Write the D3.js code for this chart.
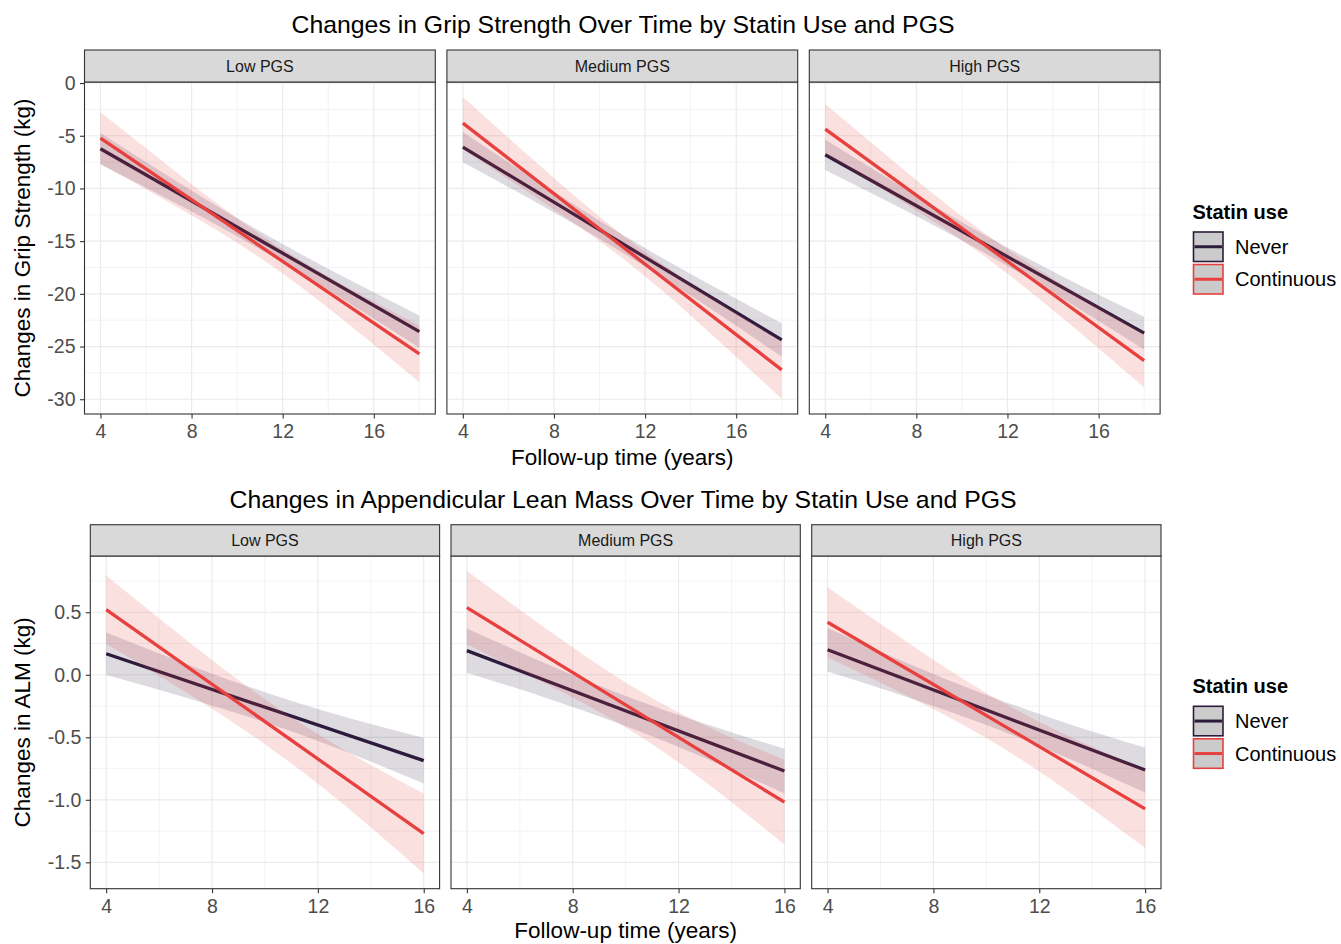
<!DOCTYPE html>
<html><head><meta charset="utf-8">
<script src="https://cdn.jsdelivr.net/npm/d3@7"></script>
<style>
body{margin:0;background:#fff;}
svg{display:block;font-family:"Liberation Sans",Arial,Helvetica,sans-serif;}
</style>
</head><body>
<svg id="chart" width="1341" height="944"></svg>
<script>
// ---------- data ----------
const panels = ["Low PGS", "Medium PGS", "High PGS"];
const groups = ["Never", "Continuous"];
const groupColors = ["#2d1b3d", "#e8403e"];
const legendTitle = "Statin use";

// Grip strength (fitted line end points, CI band points) per panel
const gripFitX = [4, 18];
const gripNeverFit = [[-6.23, -23.58], [-6.08, -24.37], [-6.80, -23.73]];
const gripContFit  = [[-5.22, -25.70], [-3.80, -27.22], [-4.37, -26.33]];
const gripBandX = [4, 7.5, 11, 14.5, 18];
const gripNeverLo = [[-7.73, -11.62, -15.76, -20.29, -25.11],
                     [-7.51, -11.67, -16.08, -20.88, -25.95],
                     [-8.25, -12.06, -16.12, -20.56, -25.28]];
const gripNeverHi = [[-4.73, -9.52, -14.06, -18.19, -22.05],
                     [-4.65, -9.63, -14.38, -18.72, -22.79],
                     [-5.35, -10.00, -14.42, -18.44, -22.18]];
const gripContLo  = [[-7.66, -11.93, -16.56, -22.20, -28.39],
                     [-6.27, -11.26, -16.61, -23.02, -29.97],
                     [-6.75, -11.41, -16.45, -22.44, -28.89]];
const gripContHi  = [[-2.78, -8.75, -14.36, -18.96, -23.01],
                     [-1.33, -8.06, -14.41, -19.72, -24.47],
                     [-1.99, -8.31, -14.25, -19.24, -23.77]];
const gripXTicks = [4, 8, 12, 16];
const gripXMinor = [6, 10, 14, 18];
const gripYTicks = [0, -5, -10, -15, -20, -25, -30];
const gripYLabels = ["0", "-5", "-10", "-15", "-20", "-25", "-30"];
const gripYMinor = [-2.5, -7.5, -12.5, -17.5, -22.5, -27.5];

// Appendicular lean mass
const almFitX = [4, 16];
const almNeverFit = [[0.168, -0.687], [0.193, -0.770], [0.200, -0.762]];
const almContFit  = [[0.521, -1.270], [0.537, -1.019], [0.420, -1.072]];
const almBandX = [4, 7, 10, 13, 16];
const almNeverLo = [[-0.002, -0.181, -0.380, -0.610, -0.870],
                    [0.016, -0.185, -0.409, -0.666, -0.949],
                    [0.026, -0.177, -0.401, -0.659, -0.942]];
const almNeverHi = [[0.338, 0.089, -0.140, -0.336, -0.504],
                    [0.370, 0.089, -0.169, -0.392, -0.591],
                    [0.374, 0.095, -0.161, -0.385, -0.582]];
const almContLo  = [[0.248, -0.137, -0.555, -1.042, -1.590],
                    [0.245, -0.072, -0.421, -0.855, -1.358],
                    [0.140, -0.168, -0.506, -0.919, -1.385]];
const almContHi  = [[0.794, 0.283, -0.195, -0.602, -0.950],
                    [0.829, 0.368, -0.061, -0.405, -0.680],
                    [0.700, 0.262, -0.146, -0.479, -0.759]];
const almXTicks = [4, 8, 12, 16];
const almXMinor = [6, 10, 14];
const almYTicks = [0.5, 0, -0.5, -1, -1.5];
const almYLabels = ["0.5", "0.0", "-0.5", "-1.0", "-1.5"];
const almYMinor = [0.75, 0.25, -0.25, -0.75, -1.25];

// ---------- chart configs ----------
const charts = [
  {
    title: "Changes in Grip Strength Over Time by Statin Use and PGS",
    yTitle: "Changes in Grip Strength (kg)",
    xTitle: "Follow-up time (years)",
    fitX: gripFitX, fits: [gripNeverFit, gripContFit],
    bandX: gripBandX, lo: [gripNeverLo, gripContLo], hi: [gripNeverHi, gripContHi],
    xTicks: gripXTicks, xMinor: gripXMinor, yTicks: gripYTicks, yLabels: gripYLabels, yMinor: gripYMinor,
    layout: {titleY: 33, stripTop: 50, panelTop: 82, panelBottom: 414, left0: 84.5, pw: 350.8, gap: 11.6,
             xTitleY: 465, yTitleX: 30, legendTop: 203}
  },
  {
    title: "Changes in Appendicular Lean Mass Over Time by Statin Use and PGS",
    yTitle: "Changes in ALM (kg)",
    xTitle: "Follow-up time (years)",
    fitX: almFitX, fits: [almNeverFit, almContFit],
    bandX: almBandX, lo: [almNeverLo, almContLo], hi: [almNeverHi, almContHi],
    xTicks: almXTicks, xMinor: almXMinor, yTicks: almYTicks, yLabels: almYLabels, yMinor: almYMinor,
    layout: {titleY: 508, stripTop: 524.7, panelTop: 556, panelBottom: 888.7, left0: 90.3, pw: 349.3, gap: 11.4,
             xTitleY: 937.5, yTitleX: 30, legendTop: 677.3}
  }
];

const svg = d3.select("#chart");
const gridCol = "#ebebeb", borderCol = "#333333", tickCol = "#4d4d4d";
const tickFont = 19.5;

charts.forEach((c, ci) => {
  const L = c.layout;
  const xExt = d3.extent(c.fitX);
  const xPad = (xExt[1] - xExt[0]) * 0.05;
  const x = d3.scaleLinear().domain([xExt[0] - xPad, xExt[1] + xPad]).range([0, L.pw]);
  const allY = [].concat(...c.lo.flat(), ...c.hi.flat(), ...c.fits.flat(2));
  const yExt = d3.extent(allY);
  const yPad = (yExt[1] - yExt[0]) * 0.05;
  const ph = L.panelBottom - L.panelTop;
  const y = d3.scaleLinear().domain([yExt[0] - yPad, yExt[1] + yPad]).range([ph, 0]);

  svg.append("text").attr("x", 623).attr("y", L.titleY)
    .attr("text-anchor", "middle").attr("font-size", 24.8).attr("fill", "#000").text(c.title);

  panels.forEach((p, pi) => {
    const px = L.left0 + pi * (L.pw + L.gap);
    const g = svg.append("g").attr("transform", `translate(${px},${L.panelTop})`);
    g.append("rect").attr("width", L.pw).attr("height", ph).attr("fill", "#fff");
    const clipId = `clip${ci}_${pi}`;
    g.append("clipPath").attr("id", clipId).append("rect").attr("width", L.pw).attr("height", ph);
    const grid = g.append("g");
    c.xMinor.forEach(v => grid.append("line").attr("x1", x(v)).attr("x2", x(v)).attr("y1", 0).attr("y2", ph)
      .attr("stroke", gridCol).attr("stroke-width", 0.6));
    c.yMinor.forEach(v => grid.append("line").attr("y1", y(v)).attr("y2", y(v)).attr("x1", 0).attr("x2", L.pw)
      .attr("stroke", gridCol).attr("stroke-width", 0.6));
    c.xTicks.forEach(v => grid.append("line").attr("x1", x(v)).attr("x2", x(v)).attr("y1", 0).attr("y2", ph)
      .attr("stroke", gridCol).attr("stroke-width", 1.2));
    c.yTicks.forEach(v => grid.append("line").attr("y1", y(v)).attr("y2", y(v)).attr("x1", 0).attr("x2", L.pw)
      .attr("stroke", gridCol).attr("stroke-width", 1.2));

    const marks = g.append("g").attr("clip-path", `url(#${clipId})`);
    groups.forEach((grp, gi) => {
      const band = c.bandX.map((xv, k) => ({x: xv, lo: c.lo[gi][pi][k], hi: c.hi[gi][pi][k]}));
      const area = d3.area().x(d => x(d.x)).y0(d => y(d.lo)).y1(d => y(d.hi)).curve(d3.curveNatural);
      marks.append("path").datum(band).attr("d", area)
        .attr("fill", groupColors[gi]).attr("fill-opacity", 0.16);
      const fit = c.fitX.map((xv, k) => ({x: xv, y: c.fits[gi][pi][k]}));
      const line = d3.line().x(d => x(d.x)).y(d => y(d.y));
      marks.append("path").datum(fit).attr("d", line)
        .attr("fill", "none").attr("stroke", groupColors[gi]).attr("stroke-width", 3.3);
    });
    g.append("rect").attr("width", L.pw).attr("height", ph).attr("fill", "none")
      .attr("stroke", borderCol).attr("stroke-width", 1.1);
    const sh = L.panelTop - L.stripTop;
    g.append("rect").attr("y", -sh).attr("width", L.pw).attr("height", sh)
      .attr("fill", "#d9d9d9").attr("stroke", borderCol).attr("stroke-width", 1.1);
    g.append("text").attr("x", L.pw / 2).attr("y", -sh / 2).attr("dy", "0.35em")
      .attr("text-anchor", "middle").attr("font-size", 16).attr("fill", "#1a1a1a").text(p);

    const xa = g.append("g").attr("transform", `translate(0,${ph})`)
      .call(d3.axisBottom(x).tickValues(c.xTicks).tickSize(4.5).tickPadding(6).tickFormat(d3.format("d")));
    xa.select(".domain").remove();
    xa.selectAll(".tick line").attr("stroke", borderCol).attr("stroke-width", 1.1);
    xa.selectAll(".tick text").attr("font-size", tickFont).attr("fill", tickCol).attr("font-family", null);
    if (pi === 0) {
      const ya = g.append("g")
        .call(d3.axisLeft(y).tickValues(c.yTicks).tickSize(4.5).tickPadding(4.5)
          .tickFormat((d, i) => c.yLabels[i]));
      ya.select(".domain").remove();
      ya.selectAll(".tick line").attr("stroke", borderCol).attr("stroke-width", 1.1);
      ya.selectAll(".tick text").attr("font-size", tickFont).attr("fill", tickCol).attr("font-family", null);
    }
  });

  const lastRight = L.left0 + 3 * L.pw + 2 * L.gap;
  svg.append("text").attr("x", (L.left0 + lastRight) / 2).attr("y", L.xTitleY)
    .attr("text-anchor", "middle").attr("font-size", 22.5).attr("fill", "#000").text(c.xTitle);
  const midY = (L.panelTop + L.panelBottom) / 2;
  svg.append("text").attr("transform", `translate(${L.yTitleX},${midY}) rotate(-90)`)
    .attr("text-anchor", "middle").attr("font-size", 22.5).attr("fill", "#000").text(c.yTitle);

  const lg = svg.append("g").attr("transform", `translate(1192.5,${L.legendTop})`);
  lg.append("text").attr("x", 0).attr("y", 15.5).attr("font-size", 20).attr("font-weight", "bold")
    .attr("fill", "#000").text(legendTitle);
  groups.forEach((grp, gi) => {
    const ky = 29 + gi * 32.5;
    lg.append("rect").attr("x", 1).attr("y", ky).attr("width", 29.5).attr("height", 29.5)
      .attr("fill", "#cbcbcb").attr("stroke", groupColors[gi]).attr("stroke-width", 1.6);
    lg.append("line").attr("x1", 2).attr("x2", 29.5).attr("y1", ky + 14.75).attr("y2", ky + 14.75)
      .attr("stroke", groupColors[gi]).attr("stroke-width", 3);
    lg.append("text").attr("x", 42.5).attr("y", ky + 14.75).attr("dy", "0.35em")
      .attr("font-size", 20).attr("fill", "#000").text(grp);
  });
});
</script>
</body></html>
